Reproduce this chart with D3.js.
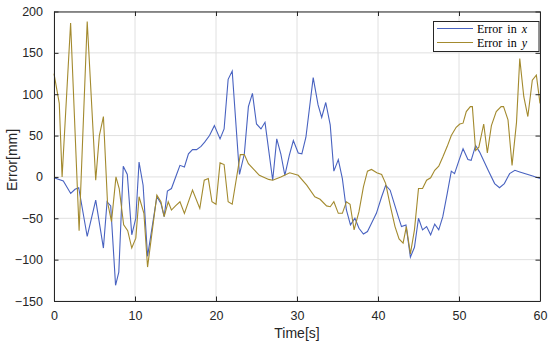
<!DOCTYPE html>
<html><head><meta charset="utf-8">
<script src="https://cdn.jsdelivr.net/npm/d3@7"></script>
<style>html,body{margin:0;padding:0;background:#fff;}svg{display:block;}</style>
</head><body>
<svg id="c" width="550" height="347"></svg>
<script>
const timeX = [0,1.15,2.06,2.6,3.05,4.1,5.15,6.1,6.55,7.0,7.6,8.0,8.55,9.05,9.6,10.1,10.5,11.0,11.55,12.7,13.2,13.6,14.0,14.5,15.1,15.55,16.1,16.6,17.1,17.6,18.15,18.6,19.2,19.8,20.5,21.0,21.5,22.0,22.9,23.5,24.0,24.5,25.0,25.55,26.05,27.0,27.5,28.0,28.5,29.05,29.55,30.15,30.6,31.1,32.0,32.6,33.05,33.55,34.1,34.55,35.1,35.6,36.1,36.6,37.15,37.65,38.2,38.7,39.2,39.8,40.45,40.95,41.5,42.0,42.5,42.9,43.45,44.0,44.5,45.0,45.5,46.0,46.5,47.0,47.5,48.0,48.55,49.05,49.45,50.0,50.5,51.1,51.5,52.05,52.55,53.6,54.4,55.0,55.6,56.25,56.9,57.5,59.1,60];
const errX = [-1,-5,-20,-15,-13,-72,-28,-86,-30,-35,-131,-115,13,3,-70,-50,18,-10,-96,-24,-32,-48,-17,-14,2,14,12,28,33,33,37,42,50,62,46,58,118,128,3,28,85,101,64,58,66,-4,46,28,2,26,44,29,28,48,120,87,72,90,63,7,21,-2,-40,-58,-50,-62,-69,-66,-56,-44,-24,-10,-16,-32,-48,-60,-58,-97,-85,-50,-64,-60,-70,-57,-64,-48,-20,7,4,20,34,21,20,38,30,8,-8,-13,-8,4,8,6,1,-2];
const timeY = [0,0.65,1.0,2.05,3.1,4.1,5.15,5.6,6.1,6.6,7.1,7.65,8.05,8.6,9.1,9.6,10.1,10.5,11.1,11.55,12.7,13.2,13.6,14.1,14.5,15.0,15.55,16.1,17.1,18.0,18.55,19.05,19.5,20.0,20.5,21.0,21.5,22.0,23.0,23.5,24.0,25.35,26.5,27.0,28.0,29.1,30.15,31.2,32.2,32.85,33.65,34.1,34.55,35.1,35.6,36.1,36.55,37.05,37.65,38.2,38.7,39.2,39.85,40.45,40.95,41.5,42.1,42.6,43.1,43.5,44.0,44.5,45.0,45.5,46.0,46.5,47.0,47.5,48.0,48.55,49.05,49.65,50.1,50.5,50.9,51.4,51.65,52.05,52.45,53.05,53.5,54.0,54.6,55.2,55.5,56.05,56.55,57.1,57.5,58.0,58.5,59.05,59.55,60];
const errY = [125,89,0,186,-65,188,-4,50,73,-30,-54,0,-14,-58,-65,-86,-74,-24,-44,-109,-22,-30,-48,-30,-40,-35,-30,-44,-16,-38,-4,-2,-30,-33,17,15,-30,-33,27,27,16,2,-3,-4,0,5,2,-10,-24,-27,-35,-36,-30,-44,-44,-30,-33,-64,-42,-12,7,9,5,3,-8,-34,-60,-75,-80,-60,-93,-64,-14,-14,-4,-1,8,13,24,37,50,60,64,65,79,85,85,32,36,64,29,62,79,85,85,69,14,66,143,97,73,117,123,89];
const xTicks = [0,10,20,30,40,50,60];
const yTicks = [-150,-100,-50,0,50,100,150,200];
const seriesNames = ["Error in ", "Error in "];
const seriesVars = ["x", "y"];
const colors = ["#4862c0", "#a38a2e"];

const svg = d3.select("#c");
const L = 54, R = 540, T = 11.5, B = 301;
const x = d3.scaleLinear().domain([0,60]).range([L,R]);
const y = d3.scaleLinear().domain([-150,200]).range([B,T]);
const axisCol = "#262626";

// grid
svg.append("g").selectAll("line").data(xTicks).join("line")
  .attr("x1", d=>x(d)).attr("x2", d=>x(d)).attr("y1", T).attr("y2", B)
  .attr("stroke", "#e0e0e0").attr("stroke-width", 1);
svg.append("g").selectAll("line").data(yTicks).join("line")
  .attr("x1", L).attr("x2", R).attr("y1", d=>y(d)).attr("y2", d=>y(d))
  .attr("stroke", "#e0e0e0").attr("stroke-width", 1);

// lines
const line = d3.line().x(d=>x(d[0])).y(d=>y(d[1]));
const dX = timeX.map((t,i)=>[t, errX[i]]);
const dY = timeY.map((t,i)=>[t, errY[i]]);
svg.append("path").datum(dX).attr("d", line).attr("fill","none").attr("stroke", colors[0]).attr("stroke-width", 1.1);
svg.append("path").datum(dY).attr("d", line).attr("fill","none").attr("stroke", colors[1]).attr("stroke-width", 1.1);

// axes (inward ticks, box)
const tl = 4.5;
const fontAx = "'Liberation Sans', Arial, Helvetica, sans-serif";
const gB = svg.append("g").attr("transform", `translate(0,${B})`)
  .call(d3.axisBottom(x).tickValues(xTicks).tickSizeInner(-tl).tickSizeOuter(0).tickPadding(10));
const gT = svg.append("g").attr("transform", `translate(0,${T})`)
  .call(d3.axisTop(x).tickValues(xTicks).tickSizeInner(-tl).tickSizeOuter(0).tickFormat(""));
const gL = svg.append("g").attr("transform", `translate(${L},0)`)
  .call(d3.axisLeft(y).tickValues(yTicks).tickSizeInner(-tl).tickSizeOuter(0).tickPadding(11)
    .tickFormat(d => d < 0 ? "\u2212" + Math.abs(d) : d));
const gR = svg.append("g").attr("transform", `translate(${R},0)`)
  .call(d3.axisRight(y).tickValues(yTicks).tickSizeInner(-tl).tickSizeOuter(0).tickFormat(""));
[gB,gT,gL,gR].forEach(g=>{
  g.selectAll(".domain").attr("stroke", axisCol).attr("stroke-width", 1);
  g.selectAll(".tick line").attr("stroke", axisCol).attr("stroke-width", 1);
  g.selectAll("text").attr("fill", "#262626").style("font-family", fontAx).style("font-size", "12.5px");
});

// axis labels
svg.append("text").attr("x", (L+R)/2).attr("y", 338).attr("text-anchor","middle")
  .style("font-family", fontAx).style("font-size","14px").attr("fill","#262626").text("Time[s]");
svg.append("text").attr("transform", `translate(17,160) rotate(-90)`).attr("text-anchor","middle")
  .style("font-family", fontAx).style("font-size","14px").attr("fill","#262626").text("Error[mm]");

// legend
const lg = svg.append("g");
lg.append("rect").attr("x", 433.5).attr("y", 21.5).attr("width", 105.5).attr("height", 30)
  .attr("fill","#fff").attr("stroke", axisCol).attr("stroke-width", 1);
const ly = [28.5, 42.5];
seriesNames.forEach((n,i)=>{
  lg.append("line").attr("x1", 437).attr("x2", 473).attr("y1", ly[i]).attr("y2", ly[i])
    .attr("stroke", colors[i]).attr("stroke-width", 1);
  const t = lg.append("text").attr("x", 477).attr("y", ly[i]+4)
    .style("font-family", "'Liberation Serif', 'DejaVu Serif', serif").style("font-size","12px")
    .style("word-spacing","2px").attr("fill","#000");
  t.append("tspan").text(n);
  t.append("tspan").style("font-style","italic").text(seriesVars[i]);
});
</script>
</body></html>
